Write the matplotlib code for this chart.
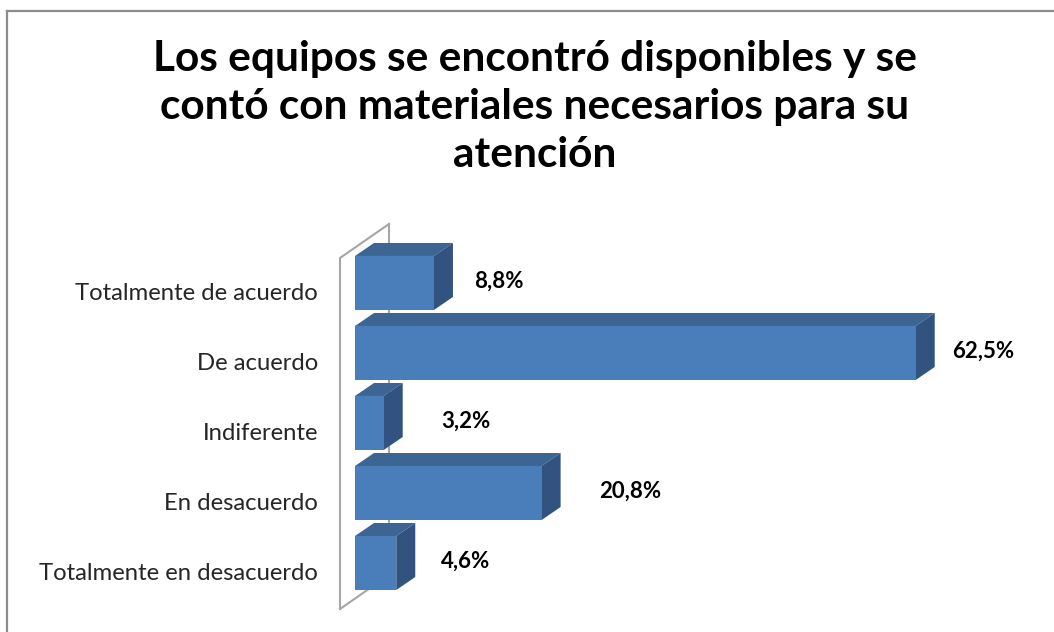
import matplotlib
matplotlib.use("Agg")
import matplotlib.pyplot as plt
from matplotlib.patches import Polygon, Rectangle
from matplotlib.lines import Line2D

titulo = "Los equipos se encontró disponibles y se\ncontó con materiales necesarios para su\natención"
categorias = ["Totalmente de acuerdo", "De acuerdo", "Indiferente",
              "En desacuerdo", "Totalmente en desacuerdo"]
porcentajes = [8.8, 62.5, 3.2, 20.8, 4.6]
etiquetas = ["8,8%", "62,5%", "3,2%", "20,8%", "4,6%"]

# separacion (px) entre el extremo de cada barra y su etiqueta
sep_etiqueta = [40, 36, 58, 58, 45]

FRENTE = "#4A7EBB"
TAPA = "#3D6594"
LADO = "#325280"
PARED = "#A6A6A6"

W, H = 1054, 632
fig = plt.figure(figsize=(W / 100, H / 100), dpi=100)
fig.patch.set_facecolor("white")

# zona del grafico en pixeles: x 355..983, y 222..612
ax = fig.add_axes([355 / W, (H - 612) / H, 628 / W, 390 / H])
ax.set_xlim(0, 70)
ax.set_ylim(4.7, -0.871)
ax.axis("off")

px_x = 628 / 70      # pixeles por punto porcentual
px_y = 390 / 5.571   # pixeles por categoria
dx, dy = 19 / px_x, 13 / px_y     # profundidad de las barras
alto = 54 / px_y

# pared lateral y piso (perspectiva)
wx0 = -15 / px_x
wdx, wdy = 49 / px_x, 34 / px_y
w_top, w_bot = -0.357, 4.657
ax.add_line(Line2D([wx0 + wdx, wx0 + wdx], [w_top - wdy, w_bot - wdy],
                   color=PARED, lw=1.5, zorder=1, clip_on=False))
ax.add_line(Line2D([wx0, wx0 + wdx], [w_bot, w_bot - wdy],
                   color=PARED, lw=1.5, zorder=1, clip_on=False))
ax.add_line(Line2D([wx0, wx0, wx0 + wdx], [w_bot, w_top, w_top - wdy],
                   color=PARED, lw=1.5, zorder=3, clip_on=False))

for i, (v, cat, lab, sep) in enumerate(zip(porcentajes, categorias, etiquetas, sep_etiqueta)):
    y0, y1 = i - alto / 2, i + alto / 2
    ax.add_patch(Polygon([(0, y0), (v, y0), (v + dx, y0 - dy), (dx, y0 - dy)],
                         closed=True, fc=TAPA, ec="none", zorder=2, clip_on=False))
    ax.add_patch(Polygon([(v, y0), (v + dx, y0 - dy), (v + dx, y1 - dy), (v, y1)],
                         closed=True, fc=LADO, ec="none", zorder=2, clip_on=False))
    ax.add_patch(Rectangle((0, y0), v, alto, fc=FRENTE, ec="none", zorder=2,
                           clip_on=False))
    ax.annotate(lab, (v, i), xytext=(sep * 0.72, 1), textcoords="offset points",
                ha="left", va="center", fontsize=16, fontweight="bold",
                family="Lato", color="black", annotation_clip=False)
    ax.annotate(cat, (0, i), xytext=(-37 * 0.72, -11 * 0.72), textcoords="offset points",
                ha="right", va="center", fontsize=17.2, family="Lato",
                color="#262626", annotation_clip=False)

fig.text(535 / W, 1 - 107 / H, titulo, ha="center", va="center",
         fontsize=30.5, fontweight="bold", family="Lato", linespacing=1.32)

# borde del area del grafico
fig.add_artist(Line2D([7 / W, 7 / W], [0, 1 - 11 / H], transform=fig.transFigure,
                      color="#8C8C8C", lw=1.6))
fig.add_artist(Line2D([7 / W, 1], [1 - 11 / H, 1 - 11 / H], transform=fig.transFigure,
                      color="#8C8C8C", lw=1.6))

fig.savefig("out.png", dpi=100)
